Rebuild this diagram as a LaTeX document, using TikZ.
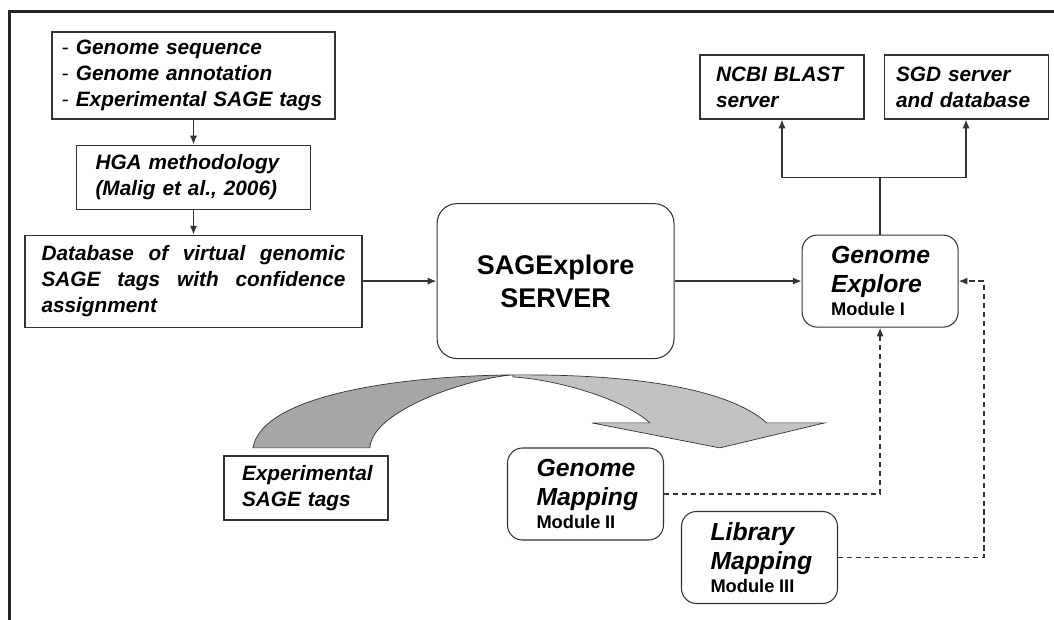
\documentclass[tikz,border=0pt]{standalone}
\usepackage{fontspec}
\setmainfont{Liberation Sans}
\usepackage{tikz}
\usetikzlibrary{positioning, arrows.meta}
\usepackage{xcolor}

\newcommand{\txtfont}{\fontsize{14.8}{18.7}\selectfont\bfseries\itshape}
\newcommand{\bigfont}{\fontsize{17.6}{20.6}\selectfont\bfseries\itshape}
\newcommand{\modfont}{\fontsize{13}{16.4}\selectfont\bfseries\upshape}
\newcommand{\srvfont}{\fontsize{19.2}{23.7}\selectfont\bfseries}
\newcommand{\dashmark}{\textmd{\textup{-}}}

\colorlet{framegray}{black!85}
\colorlet{linegray}{black!80}
\definecolor{backgray}{gray}{0.65}
\definecolor{frontgray}{gray}{0.76}

\tikzstyle{textbox} = [
rectangle,
draw=linegray,
line width=0.75pt,
align=left,
font=\txtfont,
inner ysep=0pt
]
\tikzstyle{server} = [
rectangle,
rounded corners=0.5cm,
draw=linegray,
line width=0.75pt,
minimum width=5.925cm,
minimum height=3.875cm,
align=center,
font=\srvfont
]
\tikzstyle{module} = [
rectangle,
rounded corners=0.375cm,
draw=linegray,
line width=0.75pt,
text width=2.45cm,
inner xsep=0.725cm,
minimum height=2.3cm,
align=left
]
\tikzstyle{arrow}=[-{Latex[length=2.2mm,width=1.8mm]}, draw=linegray, line width=1pt]
\tikzstyle{dasharrow}=[arrow, dash pattern=on 3.6pt off 2.8pt]

\begin{document}
\begin{tikzpicture}
        \useasboundingbox (0,0) rectangle (26.35,-15.5);

        % frame
        \draw[framegray, line width=2.2pt] (0.24,-15.5) |- (26.35,-0.285);

        \node(inputs)[textbox, text width=6.575cm, inner xsep=0.25cm,
        minimum height=2.175cm] at (4.8375,-1.8875)
        {\dashmark{} Genome sequence\\
        \dashmark{} Genome annotation\\
        \dashmark{} Experimental SAGE tags};

        \node(hga)[textbox, text width=4.9cm, inner xsep=0.475cm,
        minimum height=1.6cm, below=0.625cm of inputs]
        {HGA methodology\\(Malig et al., 2006)};

        \node(db)[textbox, text width=7.6cm, inner xsep=0.4125cm,
        minimum height=2.3cm, align=justify, below=0.625cm of hga]
        {Database of virtual genomic\linebreak
        SAGE tags with confidence\linebreak
        assignment};

        \node(server)[server, right=1.85cm of db]
        {SAGExplore\\SERVER};

        \node(explore)[module, right=3.175cm of server]
        {{\bigfont Genome\\Explore\par}{\modfont Module I\par}};

        \node(ncbi)[textbox, text width=3.3cm, inner xsep=0.4cm,
        minimum height=1.6cm] at (19.55,-2.175)
        {NCBI BLAST\\server};

        \node(sgd)[textbox, text width=3.5cm, inner xsep=0.3cm,
        minimum height=1.6cm, right=0.475cm of ncbi]
        {SGD server\\and database};

        \node(exptags)[textbox, text width=3.2cm, inner xsep=0.45cm,
        minimum height=1.6cm] at (7.65,-12.2)
        {Experimental\\SAGE tags};

        \node(gmap)[module] at (14.6375,-12.35)
        {{\bigfont Genome\\Mapping\par}{\modfont Module II\par}};

        \node(lmap)[module] at (18.9875,-13.9375)
        {{\bigfont Library\\Mapping\par}{\modfont Module III\par}};

        % big bent arrow (pixel units)
        \begin{scope}[x=0.025cm, y=-0.025cm, draw=linegray, line width=0.5pt]
        \filldraw[fill=frontgray] (513,375) .. controls (640,374) and (730,390) .. (767,423)
        -- (825,423) -- (720,448) -- (592,423) -- (650,423)
        .. controls (625,400) and (560,380) .. (513,377) -- cycle;
        \filldraw[fill=backgray] (253,448) .. controls (262,395) and (400,376) .. (513,375)
        .. controls (470,378) and (372,410) .. (370,448) -- cycle;
        \end{scope}

        \draw[arrow] (inputs)--(hga);
        \draw[arrow] (hga)--(db);
        \draw[arrow] (db)--(server);
        \draw[arrow] (server)--(explore);

        \coordinate[above=1.425cm of explore.north] (split);
        \draw[arrow] (explore.north) -- (split) -| (ncbi.south);
        \draw[arrow] (split) -| (sgd.south);

        \draw[dasharrow] (gmap.east) -| (explore.south);
        \draw[dasharrow] (lmap.east) -- ++(3.65,0) |- (explore.east);

\end{tikzpicture}
\end{document}
